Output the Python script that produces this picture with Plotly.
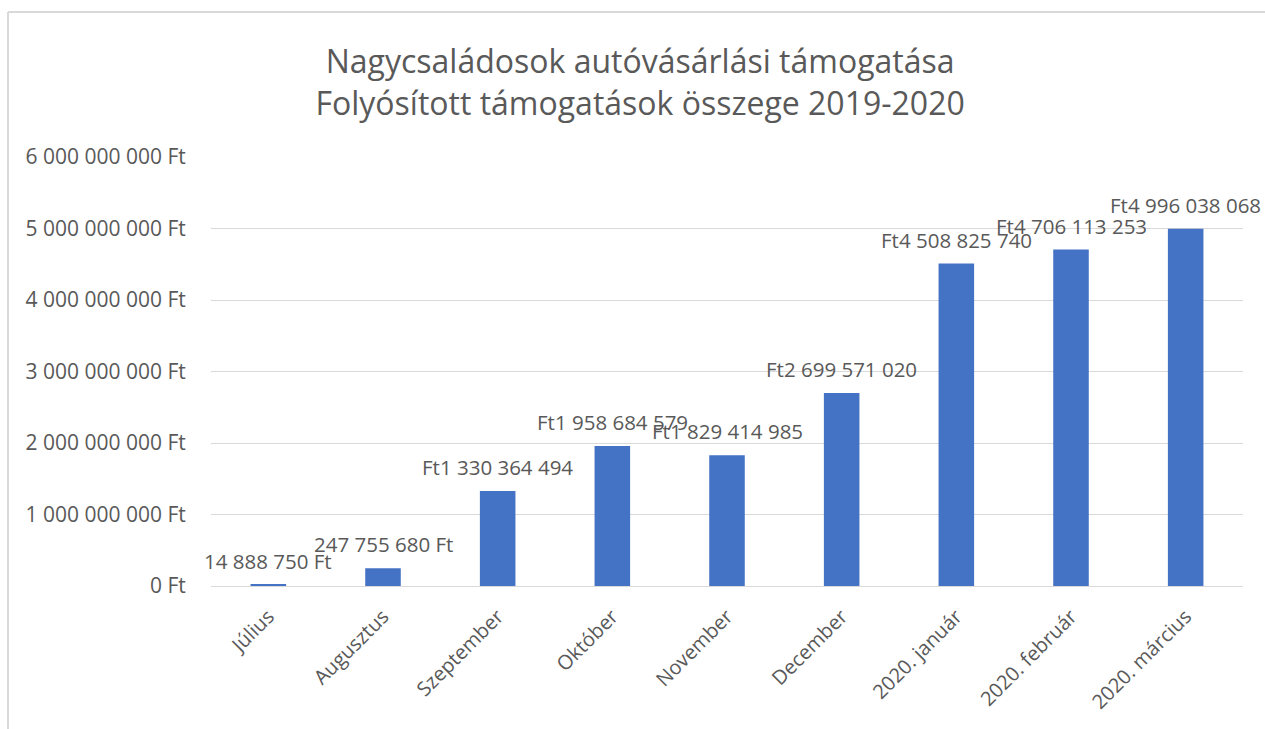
import plotly.graph_objects as go

categories = ["Július", "Augusztus", "Szeptember", "Október", "November",
              "December", "2020. január", "2020. február", "2020. március"]
values = [14888750, 247755680, 1330364494, 1958684579, 1829414985,
          2699571020, 4508825740, 4706113253, 4996038068]
currency_pos = ["suffix", "suffix", "prefix", "prefix", "prefix",
                "prefix", "prefix", "prefix", "prefix"]
y_ticks = [0, 1000000000, 2000000000, 3000000000, 4000000000, 5000000000, 6000000000]
title_lines = ["Nagycsaládosok autóvásárlási támogatása",
               "Folyósított támogatások összege 2019-2020"]


def fmt(v):
    return f"{v:,}".replace(",", " ")


def label(v, pos):
    return f"{fmt(v)} Ft" if pos == "suffix" else f"Ft{fmt(v)}"


FONT = "Open Sans"
GREY = "#595959"
W, H = 1265, 729

fig = go.Figure()
fig.add_trace(go.Bar(x=categories, y=values, marker_color="#4472C4",
                     marker_line_width=0, width=0.31, hoverinfo="x+y"))

for c, v, p in zip(categories, values, currency_pos):
    fig.add_annotation(x=c, y=v, text=label(v, p), showarrow=False,
                       yanchor="middle", yshift=24,
                       font=dict(family=FONT, size=20.5, color=GREY))

fig.update_layout(
    width=W, height=H,
    margin=dict(l=211, r=22, t=157, b=143),
    paper_bgcolor="white", plot_bgcolor="white",
    showlegend=False,
    title=dict(text="<br>".join(title_lines), x=0.506, xanchor="center",
               y=1 - 73 / H, yanchor="middle",
               font=dict(family=FONT, size=32, color=GREY)),
    xaxis=dict(range=[-0.5, len(categories) - 0.5], tickangle=-45,
               automargin=False,
               tickfont=dict(family=FONT, size=20, color=GREY),
               showline=True, linecolor="#d9d9d9", linewidth=1,
               ticks="outside", ticklen=10, tickcolor="rgba(0,0,0,0)"),
    yaxis=dict(range=[0, 6000000000], tickvals=y_ticks, automargin=False,
               ticktext=[fmt(t) + " Ft" for t in y_ticks],
               tickfont=dict(family=FONT, size=21, color=GREY),
               gridcolor="#d9d9d9", gridwidth=1, zeroline=False,
               ticks="outside", ticklen=20, tickcolor="rgba(0,0,0,0)"),
    shapes=[
        dict(type="line", xref="paper", yref="paper", x0=-0.1967, x1=1.03,
             y0=1.338, y1=1.338, line=dict(color="#d9d9d9", width=2)),
        dict(type="line", xref="paper", yref="paper", x0=-0.1967, x1=-0.1967,
             y0=1.338, y1=-0.34, line=dict(color="#d9d9d9", width=2)),
    ],
)

fig.write_html(
    "out.html",
    config={"displayModeBar": False},
    post_script="document.body.style.margin='0';document.body.style.overflow='hidden';"
                "document.documentElement.style.overflow='hidden';",
)
